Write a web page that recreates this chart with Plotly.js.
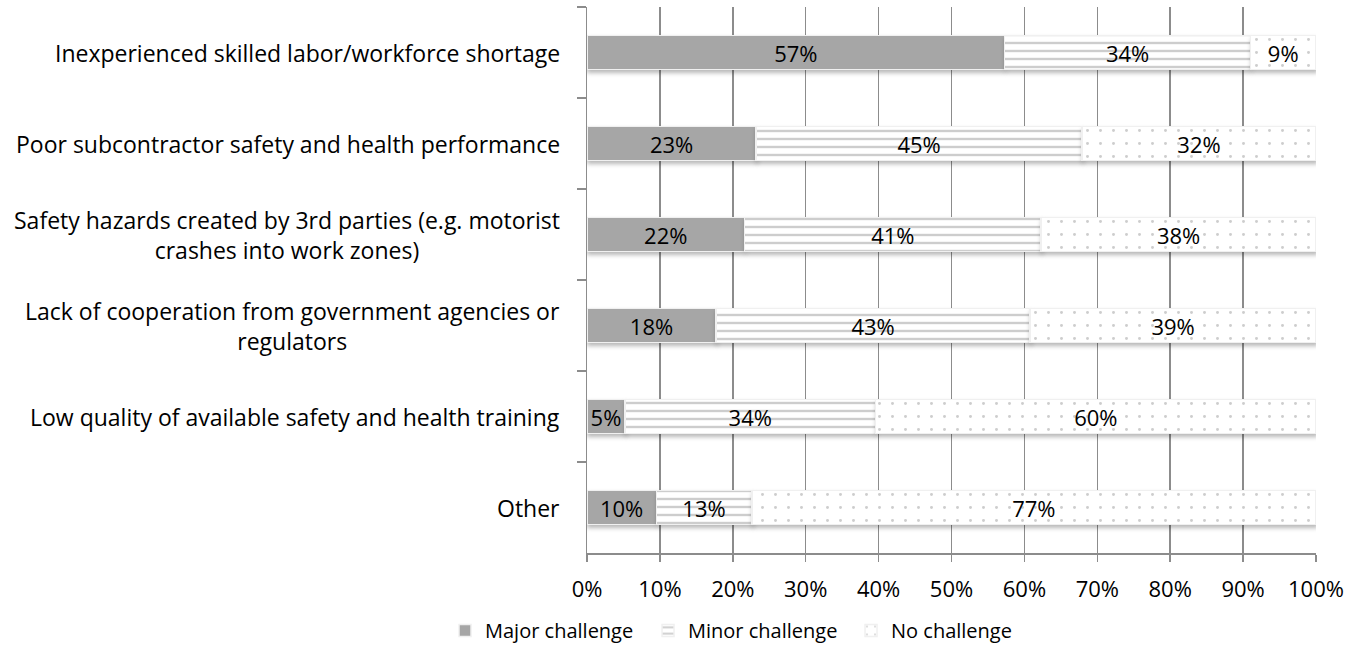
<!DOCTYPE html>
<html>
<head>
<meta charset="utf-8">
<script src="https://cdn.plot.ly/plotly-3.0.1.min.js"></script>
<style>
html,body{margin:0;padding:0;background:#fff;}
#chart{width:1364px;height:650px;}
#chart .barlayer .point path{filter:drop-shadow(1px 3px 2px rgba(0,0,0,0.28));}
</style>
</head>
<body>
<div id="chart"></div>
<script>
const categories = [
  "Inexperienced skilled labor/workforce shortage",
  "Poor subcontractor safety and health performance",
  "Safety hazards created by 3rd parties (e.g. motorist<br>crashes into work zones)",
  "Lack of cooperation from government agencies or<br>regulators",
  "Low quality of available safety and health training",
  "Other"
];
const seriesNames = ["Major challenge", "Minor challenge", "No challenge"];
const major = [57.3, 23.2, 21.6, 17.7, 5.2, 9.5];
const minor = [33.7, 44.7, 40.7, 43.1, 34.4, 13.1];
const none  = [9.0, 32.1, 37.7, 39.2, 60.4, 77.4];
const tickVals = [0, 10, 20, 30, 40, 50, 60, 70, 80, 90, 100];

const FONT = "Open Sans, Calibri, sans-serif";
const GRAY = "#a6a6a6";
const AXIS = "#8c8c8c";

function mk(name, vals, pattern) {
  return {
    type: "bar", orientation: "h", name: name,
    y: categories, x: vals,
    text: vals.map(v => Math.round(v) + "%"),
    textposition: "inside", insidetextanchor: "middle",
    textfont: {family: FONT, size: 22, color: "#000"},
    constraintext: "none",
    hoverinfo: "skip",
    marker: Object.assign({color: pattern ? "#ffffff" : GRAY, line: {color: "#f0f0f0", width: 1.5}},
      pattern ? {pattern: pattern} : {})
  };
}

const traces = [
  mk(seriesNames[0], major, null),
  mk(seriesNames[1], minor, {shape: "-", fgcolor: "#9c9c9c", bgcolor: "#ffffff", size: 8, solidity: 0.3, fillmode: "overlay"}),
  mk(seriesNames[2], none, {shape: ".", fgcolor: "#9c9c9c", bgcolor: "#ffffff", size: 13, solidity: 0.04, fillmode: "overlay"})
];

const annotations = categories.map(c => ({
  xref: "paper", yref: "y", x: 0, y: c, xshift: -25,
  xanchor: "right", yanchor: "middle", align: "center",
  text: c, showarrow: false,
  font: {family: FONT, size: 23, color: "#000"}
}));

const layout = {
  width: 1364, height: 650,
  margin: {l: 587, r: 48, t: 7, b: 97},
  paper_bgcolor: "#fff", plot_bgcolor: "#fff",
  barmode: "stack", bargap: 0.63,
  font: {family: FONT, size: 20, color: "#000"},
  showlegend: true,
  legend: {
    orientation: "h", xref: "container", yref: "container",
    x: 0.5495, xanchor: "center", y: -0.006, yanchor: "bottom",
    font: {family: FONT, size: 20, color: "#000"},
    entrywidth: 158,
    traceorder: "normal"
  },
  xaxis: {
    range: [0, 100], tickvals: tickVals, ticktext: tickVals.map(v => v + "%"),
    showgrid: true, gridcolor: AXIS, gridwidth: 1.5,
    showline: true, linecolor: AXIS, linewidth: 1.5,
    ticks: "outside", ticklen: 7, tickcolor: AXIS, tickwidth: 1.5,
    ticklabelstandoff: 9,
    zeroline: false, fixedrange: true,
    tickfont: {family: FONT, size: 22, color: "#000"}
  },
  yaxis: {
    type: "category", autorange: "reversed",
    showticklabels: false, showgrid: false,
    showline: true, linecolor: AXIS, linewidth: 1.5,
    ticks: "outside", tickson: "boundaries", ticklen: 9, tickcolor: AXIS, tickwidth: 1.5,
    fixedrange: true
  },
  annotations: annotations
};

Plotly.newPlot("chart", traces, layout, {displayModeBar: false, staticPlot: true});
</script>
</body>
</html>
